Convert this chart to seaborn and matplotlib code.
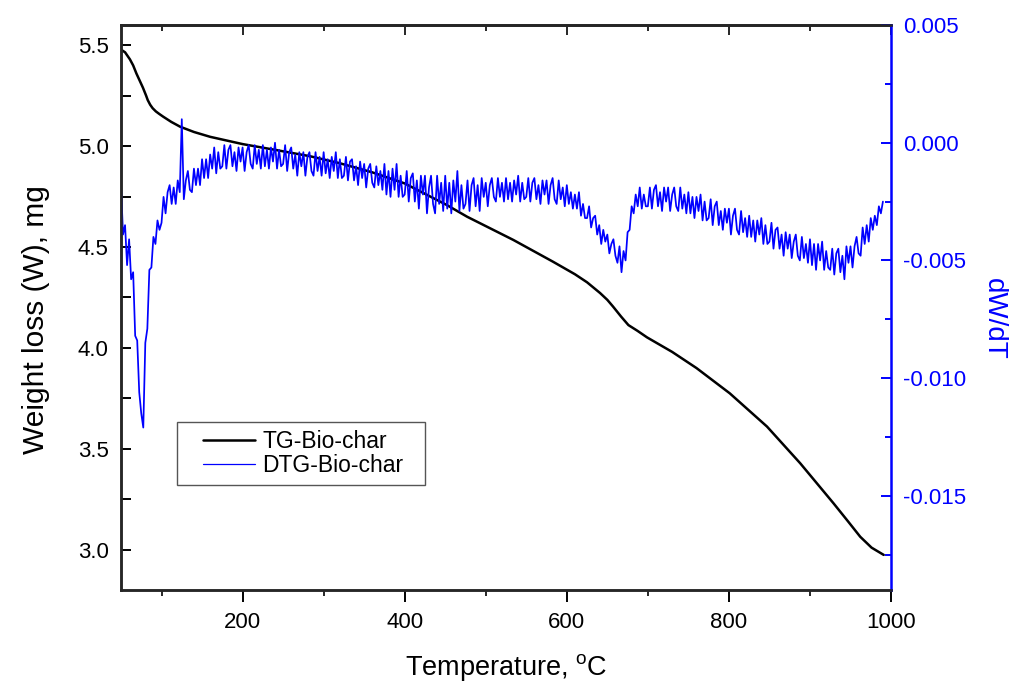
import numpy as np
import pandas as pd
import matplotlib
matplotlib.use("Agg")
import matplotlib.pyplot as plt
from matplotlib.lines import Line2D
from matplotlib.legend_handler import HandlerLine2D
from matplotlib.ticker import MultipleLocator, FormatStrFormatter
import seaborn as sns

# ---------------- data ----------------
tg_temp = [50, 55, 61, 65, 69, 73, 77, 81, 83, 86, 89, 93, 97, 102, 112, 123, 140, 160,
           200, 242, 283, 320, 360, 400, 452, 477, 534, 583, 610, 625, 641, 650, 657,
           667, 676, 687, 699, 730, 760, 801, 847, 888, 929, 947, 962, 976, 991]
tg_mass = [5.478, 5.465, 5.43, 5.40, 5.36, 5.325, 5.29, 5.25, 5.228, 5.205, 5.188,
           5.172, 5.16, 5.146, 5.12, 5.096, 5.07, 5.046, 5.01, 4.98, 4.95, 4.915,
           4.87, 4.815, 4.708, 4.65, 4.535, 4.427, 4.365, 4.325, 4.272, 4.238, 4.205,
           4.155, 4.113, 4.085, 4.052, 3.98, 3.90, 3.775, 3.61, 3.428, 3.23, 3.14,
           3.064, 3.01, 2.974]

dtg_temp = list(np.arange(50, 992.5, 2.5))   # 50 ... 990 degC, 2.5 degC sampling
dtg_rate = [
    # 50 - 72.5
    -0.0018, -0.0039, -0.0035, -0.0052, -0.0041, -0.0058, -0.0055, -0.0082, -0.0084, -0.0106,
    # 75 - 97.5
    -0.0115, -0.0121, -0.0085, -0.0079, -0.0054, -0.0053, -0.0040, -0.0043, -0.0033, -0.0037,
    # 100 - 122.5
    -0.0034, -0.0023, -0.0030, -0.0021, -0.0018, -0.0026, -0.0019, -0.0026, -0.0016, -0.0021,
    # 125 - 147.5
    0.0010, -0.0024, -0.0016, -0.0012, -0.0020, -0.0021, -0.0011, -0.0018, -0.0011, -0.0018,
    # 150 - 172.5
    -0.0007, -0.0015, -0.0007, -0.0015, -0.0005, -0.0011, -0.0002, -0.0013, -0.0004, -0.0011,
    # 175 - 197.5
    -0.0010, -0.0001, -0.0011, -0.0003, -0.0001, -0.0010, -0.0004, -0.0012, -0.0002, -0.0008,
    # 200 - 222.5
    -0.0002, -0.0012, -0.0004, -0.0001, -0.0009, -0.0011, -0.0001, -0.0009, -0.0003, -0.0011,
    # 225 - 247.5
    -0.0001, -0.0010, -0.0003, -0.0011, -0.0002, -0.0008, 0.0000, -0.0011, -0.0003, -0.0010,
    # 250 - 272.5
    -0.0009, -0.0001, -0.0012, -0.0004, -0.0002, -0.0011, -0.0005, -0.0014, -0.0004, -0.0010,
    # 275 - 297.5
    -0.0004, -0.0014, -0.0006, -0.0004, -0.0012, -0.0014, -0.0004, -0.0012, -0.0006, -0.0014,
    # 300 - 322.5
    -0.0004, -0.0013, -0.0007, -0.0015, -0.0006, -0.0012, -0.0004, -0.0015, -0.0007, -0.0015,
    # 325 - 347.5
    -0.0014, -0.0006, -0.0016, -0.0008, -0.0007, -0.0016, -0.0010, -0.0018, -0.0008, -0.0015,
    # 350 - 372.5
    -0.0009, -0.0019, -0.0011, -0.0009, -0.0017, -0.0019, -0.0010, -0.0018, -0.0012, -0.0020,
    # 375 - 397.5
    -0.0009, -0.0022, -0.0012, -0.0023, -0.0011, -0.0020, -0.0009, -0.0023, -0.0014, -0.0023,
    # 400 - 422.5
    -0.0022, -0.0012, -0.0025, -0.0015, -0.0013, -0.0025, -0.0016, -0.0028, -0.0014, -0.0022,
    # 425 - 447.5
    -0.0014, -0.0030, -0.0019, -0.0014, -0.0026, -0.0030, -0.0014, -0.0026, -0.0017, -0.0029,
    # 450 - 472.5
    -0.0014, -0.0028, -0.0017, -0.0030, -0.0016, -0.0025, -0.0012, -0.0029, -0.0018, -0.0028,
    # 475 - 497.5
    -0.0026, -0.0016, -0.0029, -0.0018, -0.0015, -0.0027, -0.0018, -0.0029, -0.0015, -0.0023,
    # 500 - 522.5
    -0.0017, -0.0027, -0.0018, -0.0015, -0.0023, -0.0025, -0.0015, -0.0023, -0.0017, -0.0025,
    # 525 - 547.5
    -0.0015, -0.0024, -0.0017, -0.0025, -0.0016, -0.0022, -0.0014, -0.0025, -0.0017, -0.0024,
    # 550 - 572.5
    -0.0023, -0.0015, -0.0025, -0.0017, -0.0015, -0.0024, -0.0018, -0.0026, -0.0016, -0.0022,
    # 575 - 597.5
    -0.0016, -0.0026, -0.0018, -0.0015, -0.0024, -0.0026, -0.0016, -0.0024, -0.0019, -0.0027,
    # 600 - 622.5
    -0.0018, -0.0026, -0.0021, -0.0028, -0.0022, -0.0028, -0.0021, -0.0031, -0.0026, -0.0032,
    # 625 - 647.5
    -0.0032, -0.0027, -0.0036, -0.0032, -0.0031, -0.0039, -0.0035, -0.0043, -0.0037, -0.0042,
    # 650 - 672.5
    -0.0039, -0.0047, -0.0043, -0.0041, -0.0048, -0.0051, -0.0044, -0.0055, -0.0046, -0.0050,
    # 675 - 697.5
    -0.0038, -0.0037, -0.0027, -0.0030, -0.0022, -0.0027, -0.0019, -0.0028, -0.0022, -0.0027,
    # 700 - 722.5
    -0.0027, -0.0019, -0.0028, -0.0020, -0.0018, -0.0027, -0.0021, -0.0029, -0.0019, -0.0025,
    # 725 - 747.5
    -0.0019, -0.0029, -0.0022, -0.0019, -0.0027, -0.0029, -0.0019, -0.0028, -0.0022, -0.0030,
    # 750 - 772.5
    -0.0021, -0.0030, -0.0023, -0.0032, -0.0023, -0.0029, -0.0022, -0.0033, -0.0025, -0.0033,
    # 775 - 797.5
    -0.0032, -0.0024, -0.0035, -0.0027, -0.0025, -0.0035, -0.0029, -0.0037, -0.0028, -0.0034,
    # 800 - 822.5
    -0.0028, -0.0039, -0.0031, -0.0028, -0.0037, -0.0039, -0.0029, -0.0038, -0.0032, -0.0040,
    # 825 - 847.5
    -0.0031, -0.0040, -0.0033, -0.0042, -0.0033, -0.0039, -0.0032, -0.0043, -0.0035, -0.0043,
    # 850 - 872.5
    -0.0042, -0.0034, -0.0045, -0.0037, -0.0036, -0.0045, -0.0039, -0.0048, -0.0038, -0.0045,
    # 875 - 897.5
    -0.0039, -0.0049, -0.0042, -0.0039, -0.0048, -0.0050, -0.0040, -0.0049, -0.0043, -0.0051,
    # 900 - 922.5
    -0.0041, -0.0052, -0.0043, -0.0054, -0.0043, -0.0050, -0.0042, -0.0054, -0.0046, -0.0053,
    # 925 - 947.5
    -0.0054, -0.0045, -0.0056, -0.0047, -0.0045, -0.0055, -0.0048, -0.0058, -0.0044, -0.0051,
    # 950 - 972.5
    -0.0044, -0.0053, -0.0044, -0.0040, -0.0047, -0.0048, -0.0036, -0.0043, -0.0035, -0.0042,
    # 975 - 990
    -0.0032, -0.0037, -0.0031, -0.0035, -0.0027, -0.0030, -0.0025,
]

x_ticks = [200, 400, 600, 800, 1000]
left_ticks = [3.0, 3.5, 4.0, 4.5, 5.0, 5.5]
right_ticks = [-0.015, -0.010, -0.005, 0.000, 0.005]
series_labels = ["TG-Bio-char", "DTG-Bio-char"]

BLUE = "#0000FF"

# ---------------- style ----------------
sns.set_style("ticks")
plt.rcParams["font.family"] = ["Liberation Sans", "DejaVu Sans"]
plt.rcParams["mathtext.fontset"] = "custom"
plt.rcParams["mathtext.rm"] = "Liberation Sans"

fig = plt.figure(figsize=(10.10, 6.84), dpi=100)
pos = [0.1198, 0.1374, 0.7624, 0.8260]
ax = fig.add_axes(pos)
ax2 = ax.twinx()
ax2.set_position(pos)

tg_df = pd.DataFrame({"T": tg_temp, "W": tg_mass})
dtg_df = pd.DataFrame({"T": dtg_temp, "R": dtg_rate})

sns.lineplot(data=tg_df, x="T", y="W", ax=ax, color="black", linewidth=1.8,
             sort=False, estimator=None, legend=False)
sns.lineplot(data=dtg_df, x="T", y="R", ax=ax2, color=BLUE, linewidth=1.25,
             sort=False, estimator=None, legend=False)

ax.set_xlim(50, 1000)
ax.set_ylim(2.8, 5.6)
ax2.set_ylim(-0.019, 0.005)

ax.set_xticks(x_ticks)
ax.xaxis.set_minor_locator(MultipleLocator(100))
ax.set_yticks(left_ticks)
ax.yaxis.set_minor_locator(MultipleLocator(0.25))
ax.yaxis.set_major_formatter(FormatStrFormatter("%.1f"))
ax2.set_yticks(right_ticks)
ax2.yaxis.set_minor_locator(MultipleLocator(0.0025))
ax2.yaxis.set_major_formatter(FormatStrFormatter("%.3f"))

for a in (ax, ax2):
    for s in a.spines.values():
        s.set_linewidth(1.8)
        s.set_visible(True)
ax2.spines["right"].set_color(BLUE)
ax.spines["right"].set_visible(False)

ax.tick_params(axis="x", which="major", direction="out", length=8.5, width=1.4,
               labelsize=16, pad=7, top=False, colors="black")
ax.tick_params(axis="x", which="minor", direction="out", length=4.5, width=1.4, top=False)
ax.tick_params(axis="y", which="both", direction="in", length=7, width=1.4,
               labelsize=16, pad=9, right=False, colors="black")
ax2.tick_params(axis="y", which="major", direction="in", length=7.5, width=1.4,
                labelsize=16, pad=8.5, colors=BLUE)
ax2.tick_params(axis="y", which="minor", direction="in", length=4, width=1.4, colors=BLUE)
ax2.tick_params(axis="x", which="both", top=False, bottom=False, labelbottom=False)

# top inward ticks
secx = ax.secondary_xaxis("top")
secx.set_xticks(x_ticks)
secx.xaxis.set_minor_locator(MultipleLocator(100))
secx.tick_params(axis="x", which="major", direction="in", length=7, width=1.4, labeltop=False)
secx.tick_params(axis="x", which="minor", direction="in", length=4, width=1.4)
secx.spines["top"].set_linewidth(1.8)

ax.set_xlabel(r"Temperature, $^{\mathrm{o}}$C", fontsize=19.5, labelpad=14, color="black")
ax.set_ylabel("Weight loss (W), mg", fontsize=21.5, color="black")
ax.yaxis.set_label_coords(-0.092, 0.478)
ax2.set_ylabel("dW/dT", fontsize=20, color=BLUE, rotation=270, va="bottom")
ax2.yaxis.set_label_coords(1.117, 0.48)


class OffsetLineHandler(HandlerLine2D):
    """Legend line drawn only over the right part of the handle box."""
    def create_artists(self, legend, orig_handle, xdescent, ydescent, width,
                       height, fontsize, trans):
        artists = super().create_artists(legend, orig_handle, xdescent, ydescent,
                                         width, height, fontsize, trans)
        line = artists[0]
        xd = np.asarray(line.get_xdata(), dtype=float)
        yd = np.asarray(line.get_ydata(), dtype=float)
        x0, x1 = xd.min(), xd.max()
        line.set_data([x0 + 0.26 * (x1 - x0), x1], [yd[0], yd[0]])
        return artists


handles = [Line2D([], [], color="black", linewidth=1.8),
           Line2D([], [], color=BLUE, linewidth=0.9)]
leg = ax2.legend(handles, series_labels, loc="upper left", mode="expand",
                 bbox_to_anchor=(0.0727, 0.179, 0.322, 0.118), borderaxespad=0,
                 fontsize=16.5, frameon=True, fancybox=False, framealpha=1,
                 edgecolor="#555555", handlelength=3.1, handletextpad=0.3,
                 labelspacing=0.08, borderpad=0.32,
                 handler_map={Line2D: OffsetLineHandler()})
leg.get_frame().set_linewidth(1.0)
for t in leg.get_texts():
    t.set_color("black")

fig.savefig("out.png", dpi=100)
